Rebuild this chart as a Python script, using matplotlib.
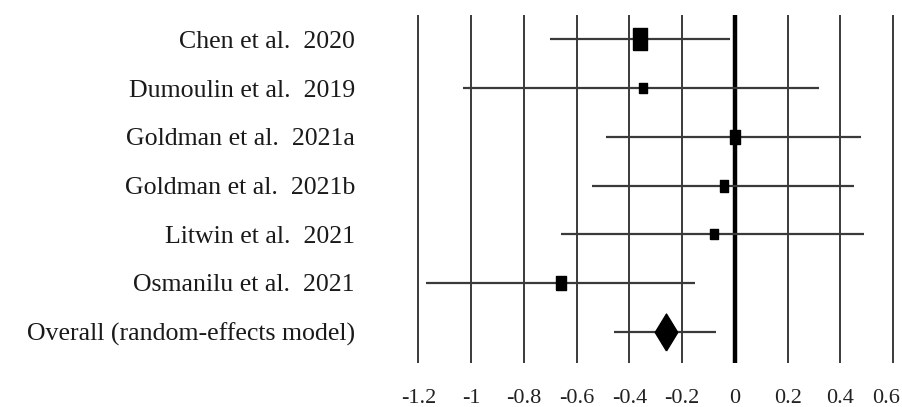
import matplotlib
matplotlib.use("Agg")
import matplotlib.pyplot as plt
import matplotlib.transforms as mtransforms
import numpy as np

# Forest plot: standardized mean differences with 95% CI

studies = [
    "Chen et al.  2020",
    "Dumoulin et al.  2019",
    "Goldman et al.  2021a",
    "Goldman et al.  2021b",
    "Litwin et al.  2021",
    "Osmanilu et al.  2021",
]
effect = [-0.36, -0.35, 0.00, -0.04, -0.08, -0.66]
ci_low = [-0.70, -1.03, -0.49, -0.54, -0.66, -1.17]
ci_high = [-0.02, 0.32, 0.48, 0.45, 0.49, -0.15]
weights = [36.8, 9.2, 17.1, 12.8, 9.2, 14.9]

overall_label = "Overall (random-effects model)"
overall_effect = -0.26
overall_low = -0.46
overall_high = -0.07

xticks = [-1.2, -1, -0.8, -0.6, -0.4, -0.2, 0, 0.2, 0.4, 0.6]

plt.rcParams["font.family"] = ["Liberation Serif", "DejaVu Serif"]

fig = plt.figure(figsize=(9.02, 4.07), dpi=100)
ax = fig.add_axes([0.449, 0.108, 0.549, 0.855])

rows = np.arange(len(studies))
line_col = "#3a3a3a"

# vertical reference grid
for xt in xticks:
    ax.axvline(xt, color=line_col, lw=1.4, zorder=1)
ax.axvline(0, color="black", lw=3.2, zorder=2)

# confidence intervals
ax.hlines(rows, ci_low, ci_high, color=line_col, lw=1.6, zorder=3)
ax.hlines(len(studies), overall_low, overall_high, color=line_col, lw=1.6, zorder=3)

# study boxes, area proportional to weight
box = [(-0.65, -1), (0.65, -1), (0.65, 1), (-0.65, 1), (-0.65, -1)]
for r, e, w in zip(rows, effect, weights):
    ax.plot(e, r, marker=box, ms=2.61 * np.sqrt(w), color="black", zorder=4)

# pooled estimate
diamond = [(0, -1), (0.61, 0), (0, 1), (-0.61, 0), (0, -1)]
ax.plot(overall_effect, len(studies), marker=diamond, ms=26.6, color="black", zorder=4)

ax.set_xlim(-1.251, 0.627)
ax.set_ylim(6.645, -0.5)

ax.set_xticks(xticks)
ax.set_xticklabels([f"{t:g}" for t in xticks], fontsize=16, color="#222222")
ax.set_yticks(list(rows) + [len(studies)])
ax.set_yticklabels(studies + [overall_label], fontsize=18.6, color="#1a1a1a")
ax.tick_params(axis="x", length=0, pad=19)
ax.tick_params(axis="y", length=0, pad=36)

# keep the rightmost tick label inside the figure
last = ax.get_xticklabels()[-1]
last.set_transform(last.get_transform() +
                   mtransforms.ScaledTranslation(-7 / 100, 0, fig.dpi_scale_trans))

for s in ax.spines.values():
    s.set_visible(False)

fig.savefig("out.png", dpi=100)
